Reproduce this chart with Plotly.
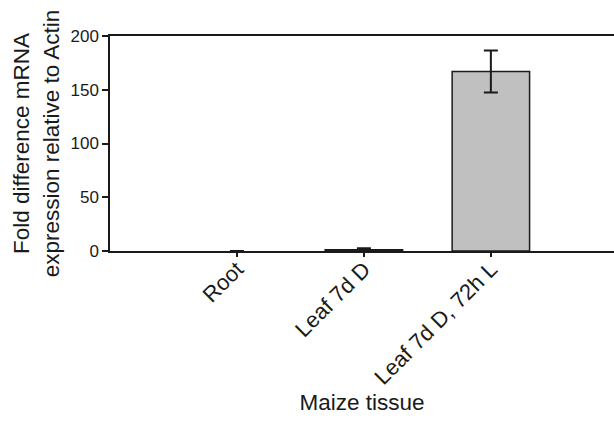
import plotly.graph_objects as go

categories = ["Root", "Leaf 7d D", "Leaf 7d D, 72h L"]
values = [0, 1.2, 167]
errors = [0, 1.3, 19.5]
y_ticks = [0, 50, 100, 150, 200]

fig = go.Figure()
fig.add_trace(go.Bar(
    x=list(range(len(categories))),
    y=values,
    width=0.61,
    marker=dict(color="#c0c0c0",
                line=dict(color="#1a1a1a", width=[0 if v == 0 else 1.5 for v in values])),
    error_y=dict(type="data", array=errors, visible=True, color="#1a1a1a", thickness=2, width=7),
))

fig.update_layout(
    width=614, height=431,
    margin=dict(l=110, r=0, t=36, b=180),
    paper_bgcolor="white", plot_bgcolor="white",
    font=dict(family="Liberation Sans, Arial, sans-serif", color="#1a1a1a"),
    showlegend=False,
)
fig.update_xaxes(
    range=[-1.0, 2.97],
    tickmode="array",
    tickvals=list(range(len(categories))),
    ticktext=categories,
    tickangle=-45,
    tickfont=dict(size=22),
    ticks="outside", ticklen=4, tickwidth=1.5, tickcolor="#1a1a1a",
    ticklabelstandoff=-9,
    showline=True, linecolor="#1a1a1a", linewidth=1.5, mirror=True,
    showgrid=False, zeroline=False,
    title=dict(text="Maize tissue", font=dict(size=22.5), standoff=4),
)
fig.update_yaxes(
    range=[0, 200],
    tickmode="array",
    tickvals=y_ticks,
    tickfont=dict(size=17),
    ticks="outside", ticklen=6, tickwidth=1.5, tickcolor="#1a1a1a",
    showline=True, linecolor="#1a1a1a", linewidth=1.5,
    showgrid=False, zeroline=False,
    title=dict(text="Fold difference mRNA<br>expression relative to Actin", font=dict(size=22.5), standoff=5),
)

# remove the browser's default 8px body margin so the figure fills the window
fig.write_html(
    "out.html",
    config={"displayModeBar": False},
    post_script="document.body.style.margin='0';document.body.style.overflow='hidden';",
)
